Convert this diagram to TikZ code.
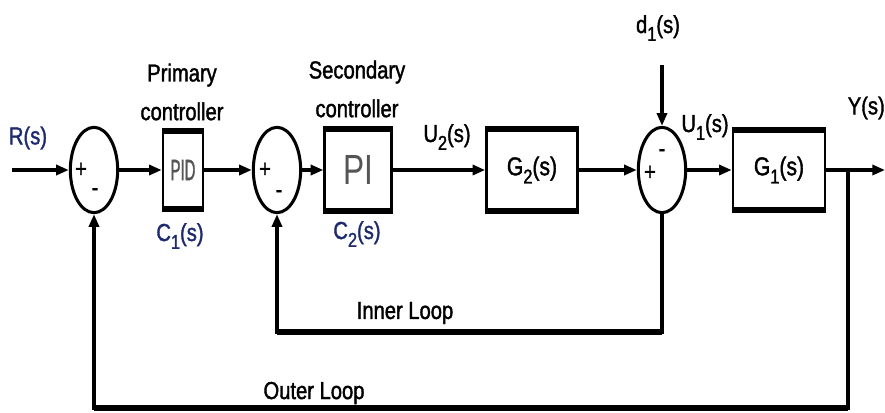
\documentclass[tikz,border=0pt]{standalone}
\usepackage{fontspec}
\setmainfont{Liberation Sans}
\newfontfamily\narrowfont[FakeStretch=0.82,FakeBold=1.5]{Liberation Sans}
\newfontfamily\plainfont{Liberation Sans}
\usepackage{graphicx}
\usetikzlibrary{arrows.meta,shapes.geometric}
\definecolor{cNavy}{HTML}{1E2A6E}
\definecolor{cGray}{HTML}{555555}
% lowered index, as in C_1(s)
\newcommand{\lowsub}[1]{\raisebox{-0.6ex}{\fontsize{17}{17}\selectfont #1}}

\begin{document}
\begin{tikzpicture}[x=0.03cm,y=-0.03cm,
  sum/.style={ellipse,draw,line width=2.6pt,minimum width=1.42cm,minimum height=2.56cm,inner sep=0pt},
  box/.style={draw,line width=2.2pt,inner sep=0pt,fill=white,font=\narrowfont\fontsize{22}{22}\selectfont},
  lbl/.style={font=\narrowfont\fontsize{21}{33}\selectfont,align=center,inner sep=0pt},
  sgn/.style={font=\narrowfont\fontsize{21}{21}\selectfont,inner sep=0pt},
  ar/.style={-{Triangle[length=3.8mm,width=3mm]},line width=4.2pt},
  fb/.style={-{Triangle[length=3.8mm,width=3mm]},line width=2.8pt}]
  \useasboundingbox (0,0) rectangle (885,412);
  % blocks of the cascade
  \node[sum] (s1) at (94,170) {};
  \node[box,minimum width=1.2cm,minimum height=2.28cm] (pid) at (183,170)
     {\color{cGray}\scalebox{0.62}[1]{\fontsize{25}{25}\selectfont PID}};
  \node[sum] (s2) at (277,170) {};
  \node[box,minimum width=2.0cm,minimum height=2.4cm] (pi) at (358,170)
     {\color{cGray}\scalebox{0.75}[1]{\plainfont\fontsize{36}{36}\selectfont PI}};
  \node[box,minimum width=2.73cm,minimum height=2.4cm] (g2) at (532,170) {G\lowsub{2}(s)};
  \node[sum] (s3) at (662,170) {};
  \node[box,minimum width=2.76cm,minimum height=2.34cm] (g1) at (779,170) {G\lowsub{1}(s)};
  \foreach \b in {pid,pi,g2,g1}
    \draw[line width=5pt] (\b.north west) -- (\b.north east) (\b.south west) -- (\b.south east);
  % free ends
  \coordinate (in) at (12,170);
  \coordinate (out) at (885,170);
  \coordinate (br) at (848,170);
  \coordinate (dtop) at (662,65);
  \coordinate (innerlow) at (0,332);
  \coordinate (outerlow) at (0,408);
  % signs
  \node[sgn] (p1) at ([shift={(-13,0)}]s1.center) {+};
  \node[sgn] (m1) at ([shift={(1,22)}]s1.center) {-};
  \node[sgn] (p2) at ([shift={(-12,0)}]s2.center) {+};
  \node[sgn] (m2) at ([shift={(2,24)}]s2.center) {-};
  \node[sgn] (p3) at ([shift={(-12,3)}]s3.center) {+};
  \node[sgn] (m3) at ([shift={(0,-17)}]s3.center) {-};
  % forward path
  \draw[ar] (in) -- (s1);
  \draw[ar] (s1) -- (pid);
  \draw[ar] (pid) -- (s2);
  \draw[ar] (s2) -- (pi);
  \draw[ar] (pi) -- (g2);
  \draw[ar] (g2) -- (s3);
  \draw[ar] (s3) -- (g1);
  \draw[ar] (g1) -- (out);
  \draw[fb] (dtop) -- (s3);
  % loops
  \draw[fb] (s3.south) -- (s3.south |- innerlow) -| (s2.south);
  \draw[fb] (br) -- (br |- outerlow) -| (s1.south);
  \draw[line width=4.4pt] (s3.south |- innerlow) -- (s2.south |- innerlow)
    (br |- outerlow) -- (s1.south |- outerlow);
  % texts
  \node[lbl,cNavy] (rlab) at (28,138) {R(s)};
  \node[lbl] (prim) at (182,92) {Primary\\controller};
  \node[lbl,cNavy] (c1lab) at (180,236) {C\lowsub{1}(s)};
  \node[lbl] (sec) at (357,89) {Secondary\\controller};
  \node[lbl,cNavy] (c2lab) at (357,234) {C\lowsub{2}(s)};
  \node[lbl] (u2lab) at (447,137) {U\lowsub{2}(s)};
  \node[lbl] (dlab) at (658,28) {d\lowsub{1}(s)};
  \node[lbl] (u1lab) at (705,127) {U\lowsub{1}(s)};
  \node[lbl,anchor=east] (ylab) at (885,108) {Y(s)};
  \node[lbl] (inner) at (405,313) {Inner Loop};
  \node[lbl] (outer) at (314,393) {Outer Loop};
\end{tikzpicture}
\end{document}
